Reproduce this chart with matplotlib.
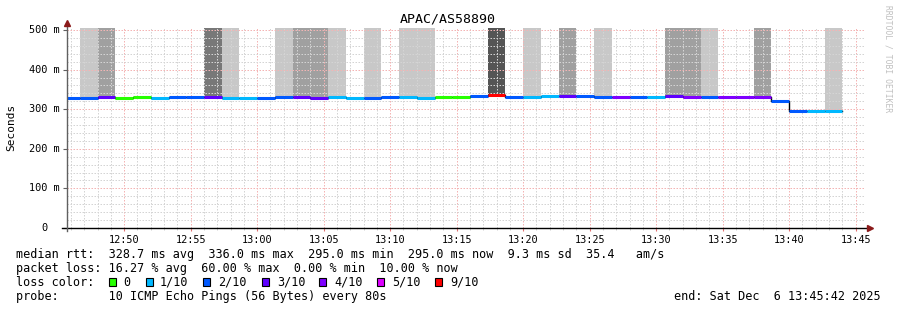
import datetime as dt
import matplotlib
matplotlib.use("Agg")
import matplotlib.pyplot as plt
import matplotlib.dates as mdates
from matplotlib.patches import Rectangle
from matplotlib.lines import Line2D

# ---------------- data ----------------
title = "APAC/AS58890"
first_step = dt.datetime(2025, 12, 6, 12, 45, 20)
step_seconds = 80
view_start = dt.datetime(2025, 12, 6, 12, 45, 42)
view_end = dt.datetime(2025, 12, 6, 13, 45, 42)

median_ms = [329, 329, 330, 328, 331, 329, 330, 330, 331, 329,
             329, 328, 330, 330, 328, 330, 328, 328, 330, 330,
             328, 331, 331, 334, 336, 331, 331, 333, 333, 333,
             331, 331, 331, 331, 334, 331, 331, 331, 331, 331,
             321, 295, 295, 295]
loss_tenths = [2, 2, 3, 0, 0, 1, 2, 2, 3, 1,
               1, 2, 2, 3, 3, 1, 1, 2, 2, 1,
               1, 0, 0, 2, 9, 2, 1, 1, 3, 2,
               2, 4, 2, 1, 3, 4, 2, 4, 4, 4,
               2, 2, 1, 1]
smoke_level = [0, 1, 2, 0, 0, 0, 0, 0, 3, 1,
               0, 0, 1, 2, 2, 1, 0, 1, 0, 1,
               1, 0, 0, 0, 4, 0, 1, 0, 2, 0,
               1, 0, 0, 0, 2, 2, 1, 0, 0, 2,
               0, 0, 0, 1]

loss_keys = [0, 1, 2, 3, 4, 5, 9]
loss_labels = ["0", "1/10", "2/10", "3/10", "4/10", "5/10", "9/10"]
loss_colors = ["#26ff00", "#00b8ff", "#0059ff", "#5e00ff", "#7e00ff", "#dd00ff", "#ff0000"]
smoke_colors = {1: "#c8c8c8", 2: "#a0a0a0", 3: "#787878", 4: "#555555"}

yticks_ms = [0, 100, 200, 300, 400, 500]
ytick_labels = ["0", "100 m", "200 m", "300 m", "400 m", "500 m"]

legend_lines = [
    "median rtt:  328.7 ms avg  336.0 ms max  295.0 ms min  295.0 ms now  9.3 ms sd  35.4   am/s",
    "packet loss: 16.27 % avg  60.00 % max  0.00 % min  10.00 % now",
    "loss color:",
    "probe:       10 ICMP Echo Pings (56 Bytes) every 80s",
]
end_text = "end: Sat Dec  6 13:45:42 2025"
watermark = "RRDTOOL / TOBI OETIKER"

# ---------------- layout helpers ----------------
W, H = 897, 310
def fx(x):
    return x / W
def fy(y):
    return 1 - y / H

MONO = "DejaVu Sans Mono"
plt.rcParams["font.family"] = [MONO]

fig = plt.figure(figsize=(W / 100, H / 100), dpi=100, facecolor="white")
ax = fig.add_axes([fx(67), fy(228), (865 - 67) / W, (228 - 28) / H])
ax.set_facecolor("white")

YTOP = 505.0
ax.set_ylim(0, YTOP)
ax.set_xlim(mdates.date2num(view_start), mdates.date2num(view_end))

step_days = step_seconds / 86400.0
times = [mdates.date2num(first_step + dt.timedelta(seconds=step_seconds * i))
         for i in range(len(median_ms))]

# smoke bars
for t, m, s in zip(times, median_ms, smoke_level):
    if s:
        ax.bar(t, YTOP - m, bottom=m, width=step_days, align="edge",
               color=smoke_colors[s], linewidth=0, zorder=1)

# black step outline
edges = times + [times[-1] + step_days]
ax.step(edges, median_ms + [median_ms[-1]], where="post", color="black",
        lw=1.0, zorder=3)

# coloured median segments
cmap = dict(zip(loss_keys, loss_colors))
for t, m, l in zip(times, median_ms, loss_tenths):
    ax.hlines(m, t, t + step_days, colors=cmap[l], lw=2.2, zorder=4,
              capstyle="butt")

# grid
ax.set_axisbelow(False)
ax.xaxis.set_major_locator(mdates.MinuteLocator(byminute=range(0, 60, 5)))
ax.xaxis.set_minor_locator(mdates.MinuteLocator())
ax.xaxis.set_major_formatter(mdates.DateFormatter("%H:%M"))
ax.set_yticks(yticks_ms)
ax.set_yticks(range(0, 501, 20), minor=True)
ax.set_yticklabels([])
ax.grid(which="minor", color="#d4d4d4", linestyle=(0, (1.5, 1.5)), lw=0.72)
ax.grid(which="major", color="#f4b4b4", linestyle=(0, (1.5, 1.5)), lw=0.72)

for sp in ax.spines.values():
    sp.set_visible(False)

ax.tick_params(axis="x", which="major", length=2, color="#e07070",
               labelsize=7.4, pad=3)
ax.tick_params(axis="x", which="minor", length=1.5, color="#c8c8c8")
ax.tick_params(axis="y", which="major", length=3, color="#606060")
ax.tick_params(axis="y", which="minor", length=0)

# y tick labels (right aligned with rrdtool padding)
ytr = ax.get_yaxis_transform()
for v, lab in zip(yticks_ms, ytick_labels):
    xend = 60 if lab != "0" else 48
    ax.text((xend - 67) / 798, v, lab, transform=ytr, ha="right",
            va="center", fontsize=7.4, color="black", clip_on=False)

# axis lines with arrows
fig.add_artist(Line2D([fx(62), fx(869)], [fy(228), fy(228)], color="black", lw=1.0))
fig.add_artist(Line2D([fx(67), fx(67)], [fy(231), fy(24)], color="#606060", lw=1.0))
fig.add_artist(Line2D([fx(870)], [fy(228)], marker=">", color="#8b1a1a",
                      markersize=4, lw=0))
fig.add_artist(Line2D([fx(67)], [fy(22.5)], marker="^", color="#8b1a1a",
                      markersize=4, lw=0))

# texts
fig.text(fx(448), fy(19), title, ha="center", va="center", fontsize=9.5)
fig.text(fx(11), fy(127), "Seconds", rotation=90, ha="center", va="center",
         fontsize=8)
fig.text(fx(888), fy(5), watermark, rotation=-90, ha="center", va="top",
         fontsize=5.8, color="#c0c0c0")

line_y = [254.3, 268.3, 282.3, 296.2]
for txt, yy in zip(legend_lines, line_y):
    fig.text(fx(16), fy(yy), txt, ha="left", va="center", fontsize=8.5)
fig.text(fx(881), fy(296.2), end_text, ha="right", va="center", fontsize=8.5)

sq_x = [109, 145.7, 203, 262, 319, 377, 435]
lab_x = [123, 160, 218, 277, 334, 392, 450]
for c, lab, sx, lx in zip(loss_colors, loss_labels, sq_x, lab_x):
    fig.add_artist(Rectangle((fx(sx), fy(286)), 7 / W, 8 / H,
                             facecolor=c, edgecolor="black", lw=0.8,
                             transform=fig.transFigure))
    fig.text(fx(lx), fy(282.3), lab, ha="left", va="center", fontsize=8.5)

fig.savefig("out.png", dpi=100, facecolor="white")
